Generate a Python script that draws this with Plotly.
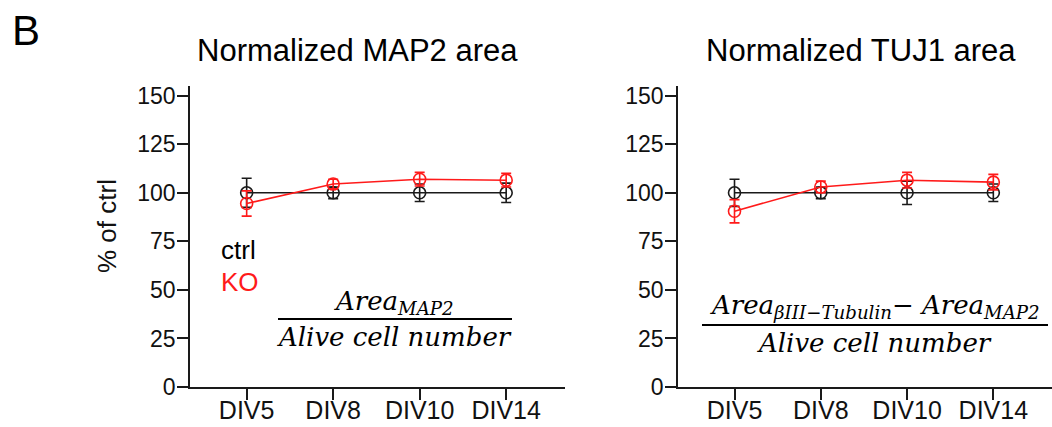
import plotly.graph_objects as go
from plotly.subplots import make_subplots

categories = ["DIV5", "DIV8", "DIV10", "DIV14"]
y_ticks = [0, 25, 50, 75, 100, 125, 150]

map2_ctrl = [100, 100, 100, 100]
map2_ctrl_err = [7.5, 3, 4.5, 5]
map2_ko = [94.5, 104.5, 107, 106.5]
map2_ko_err = [6.5, 2.5, 3.5, 3.5]

tuj1_ctrl = [100, 100, 100, 100]
tuj1_ctrl_err = [7, 3, 6, 4.5]
tuj1_ko = [90.5, 103, 106.5, 105.5]
tuj1_ko_err = [6, 3, 4, 4]

W, H = 1052, 427
BLACK = "#1a1a1a"
RED = "#ff1a1a"
SANS = "Liberation Sans, Arial, sans-serif"
SERIF = "DejaVu Serif, serif"

def px(x):
    return x / W

def py(y):
    return 1 - y / H

fig = make_subplots(rows=1, cols=2)

def add_series(y, err, color, col, name):
    fig.add_trace(go.Scatter(
        x=categories, y=y, mode="lines+markers", name=name,
        line=dict(color=color, width=1.6),
        marker=dict(symbol="circle-open", size=12, color=color, line=dict(width=1.6, color=color)),
        error_y=dict(type="data", array=err, visible=True, color=color, thickness=1.6, width=5),
        showlegend=False,
    ), row=1, col=col)

add_series(map2_ctrl, map2_ctrl_err, BLACK, 1, "ctrl")
add_series(map2_ko, map2_ko_err, RED, 1, "KO")
add_series(tuj1_ctrl, tuj1_ctrl_err, BLACK, 2, "ctrl")
add_series(tuj1_ko, tuj1_ko_err, RED, 2, "KO")

ydom = [py(387), py(86)]
xaxis_common = dict(
    type="category", categoryorder="array", categoryarray=categories,
    range=[-0.655, 3.68], showline=True, linecolor=BLACK, linewidth=1.5,
    ticks="outside", ticklen=11, tickwidth=1.5, tickcolor=BLACK,
    ticklabelstandoff=-11,
    showgrid=False, zeroline=False, automargin=False,
    tickfont=dict(family=SANS, size=25, color="#111"),
)
yaxis_common = dict(
    range=[0, 155], tickvals=y_ticks, showline=True, linecolor=BLACK, linewidth=1.5,
    ticks="outside", ticklen=11, tickwidth=1.5, tickcolor=BLACK,
    ticklabelstandoff=-3,
    showgrid=False, zeroline=False, automargin=False,
    tickfont=dict(family=SANS, size=23, color="#111"),
)

fig.update_xaxes(**xaxis_common)
fig.update_yaxes(**yaxis_common)
fig.update_layout(
    xaxis=dict(domain=[px(190), px(565)]),
    xaxis2=dict(domain=[px(678), 1.0]),
    yaxis=dict(domain=ydom),
    yaxis2=dict(domain=ydom),
)

annotations = [
    dict(text="B", x=px(26), y=py(31), font=dict(family=SANS, size=42, color="#000")),
    dict(text="Normalized MAP2 area", x=px(357.5), y=py(50), font=dict(family=SANS, size=31, color="#000")),
    dict(text="Normalized TUJ1 area", x=px(860.5), y=py(50), font=dict(family=SANS, size=31, color="#000")),
    dict(text="% of ctrl", x=px(107), y=py(226), textangle=-90, font=dict(family=SANS, size=26, color="#111")),
    dict(text="ctrl", x=px(219), y=py(250), xanchor="left", font=dict(family=SANS, size=26, color="#000")),
    dict(text="KO", x=px(219), y=py(282), xanchor="left", font=dict(family=SANS, size=26, color=RED)),
    dict(text="<i>Area<sub>MAP2</sub></i>", x=px(394), y=py(302), font=dict(family=SERIF, size=26, color="#000")),
    dict(text="<i>Alive cell number</i>", x=px(394), y=py(337), font=dict(family=SERIF, size=26, color="#000")),
    dict(text="<i>Area<sub>βIII−Tubulin</sub>− Area<sub>MAP2</sub></i>", x=px(875), y=py(306), font=dict(family=SERIF, size=26, color="#000")),
    dict(text="<i>Alive cell number</i>", x=px(874), y=py(343), font=dict(family=SERIF, size=26, color="#000")),
]
for a in annotations:
    a.update(xref="paper", yref="paper", showarrow=False)
    a.setdefault("xanchor", "center")
    a.setdefault("yanchor", "middle")

fig.update_layout(
    annotations=annotations,
    shapes=[
        dict(type="line", xref="paper", yref="paper", x0=px(278), x1=px(512), y0=py(319), y1=py(319), line=dict(color="#000", width=2)),
        dict(type="line", xref="paper", yref="paper", x0=px(702), x1=px(1048), y0=py(325), y1=py(325), line=dict(color="#000", width=2)),
    ],
    width=W, height=H,
    margin=dict(l=0, r=0, t=0, b=0),
    paper_bgcolor="white", plot_bgcolor="white",
)

fig.write_html("out.html")
